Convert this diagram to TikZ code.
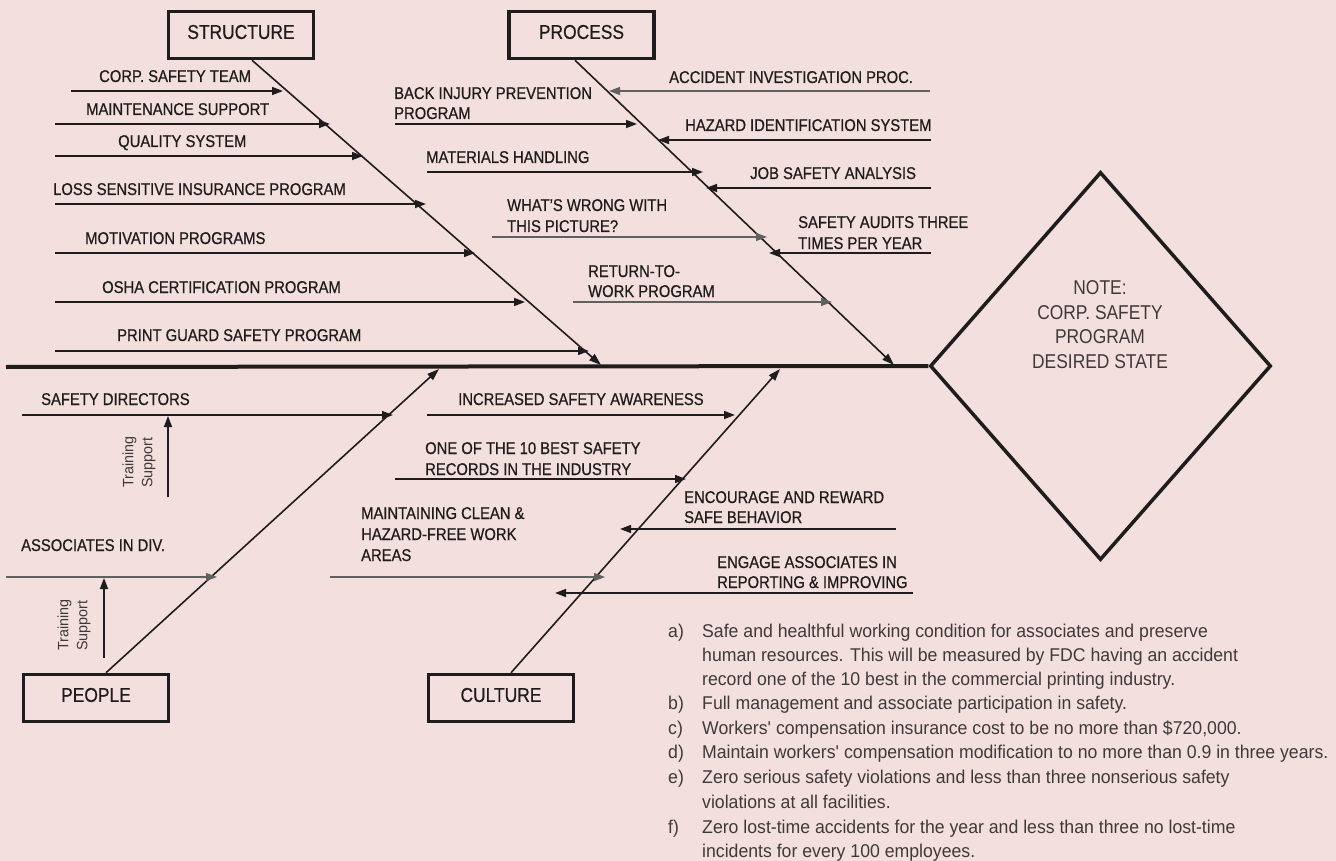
\documentclass[tikz,border=0pt]{standalone}
\usepackage{fontspec}
\setmainfont{Liberation Sans}
\newfontfamily\condfont{Liberation Sans}[FakeStretch=0.87,FakeBold=0.6]
\newfontfamily\goalfont{Liberation Sans}[FakeStretch=0.87]
\newfontfamily\notefont{Liberation Sans}[FakeStretch=0.955]
\usetikzlibrary{arrows.meta,shapes.geometric}
\definecolor{bg}{RGB}{243,223,221}
\definecolor{ink}{RGB}{30,28,28}
\definecolor{softink}{RGB}{62,58,58}
\tikzset{
  catbox/.style={draw=ink, line width=3.5pt, minimum width=145pt, minimum height=47pt,
    inner sep=0pt, text height=14.3pt, text depth=6.5pt,
    font=\condfont\fontsize{20}{24}\selectfont, text=ink},
  goalshape/.style={diamond, draw=ink, line width=3.5pt, minimum width=341pt,
    minimum height=388pt, inner sep=0pt},
  goaltxt/.style={anchor=base, inner sep=0pt, font=\goalfont\fontsize{20}{24}\selectfont, text=softink},
  lbl/.style={anchor=base west, inner sep=0pt, font=\condfont\fontsize{17}{20}\selectfont, text=ink},
  note/.style={anchor=base west, inner sep=0pt, font=\notefont\fontsize{18.5}{24}\selectfont, text=softink},
  train/.style={rotate=90, align=left, inner sep=0pt, font=\notefont\fontsize{15}{19}\selectfont, text=softink},
  spineline/.style={draw=ink, line width=4pt},
  bone/.style={draw=ink, line width=1.6pt, -{Triangle[length=12pt,width=8pt]}},
  br/.style={draw=ink, line width=1.5pt, -{Triangle[length=11pt,width=8pt]}},
  thinbr/.style={draw=ink!70, line width=1.1pt, -{Triangle[length=11pt,width=8pt]}},
  sup/.style={draw=ink, line width=1.5pt, -{Triangle[length=11pt,width=8pt]}}
}
\begin{document}
\begin{tikzpicture}[x=1pt,y=-1pt]
\fill[bg] (0,0) rectangle (1336,861);
\useasboundingbox (0,0) rectangle (1336,861);

% category boxes and goal
\node[catbox] (structure) at (241,35) {STRUCTURE};
\node[catbox] (process) at (581.5,35) {PROCESS};
\node[catbox] (people) at (96,698) {PEOPLE};
\node[catbox] (culture) at (501,698) {CULTURE};
\node[goalshape] (goal) at (1100.5,366) {};
\node[goaltxt] (g1) at (1100,294) {NOTE:};
\node[goaltxt] (g2) at (1100,319) {CORP. SAFETY};
\node[goaltxt] (g3) at (1100,343) {PROGRAM};
\node[goaltxt] (g4) at (1100,368) {DESIRED STATE};

% spine
\coordinate (spinestart) at (6,367);
\draw[spineline] (spinestart) -- (goal.west);

% bones
\coordinate (sTip) at (601,365);
\coordinate (pTip) at (894,365);
\coordinate (peTip) at (439,369);
\coordinate (cTip) at (780,369);
\draw[bone] ([xshift=11pt]structure.south) -- (sTip);
\draw[bone] ([xshift=-6.5pt]process.south) -- (pTip);
\draw[bone] ([xshift=10pt]people.north) -- (peTip);
\draw[bone] ([xshift=10pt]culture.north) -- (cTip);

% ---------- STRUCTURE branches ----------
\node[lbl] (s1) at (99,82) {CORP. SAFETY TEAM};
\node[lbl] (s2) at (86,115) {MAINTENANCE SUPPORT};
\node[lbl] (s3) at (118,147) {QUALITY SYSTEM};
\node[lbl] (s4) at (53,195) {LOSS SENSITIVE INSURANCE PROGRAM};
\node[lbl] (s5) at (85,244) {MOTIVATION PROGRAMS};
\node[lbl] (s6) at (102,293) {OSHA CERTIFICATION PROGRAM};
\node[lbl] (s7) at (117,341) {PRINT GUARD SAFETY PROGRAM};
\coordinate (s1a) at (71,91);  \coordinate (s1b) at (283,91);
\coordinate (s2a) at (55,124); \coordinate (s2b) at (330,124);
\coordinate (s3a) at (55,156); \coordinate (s3b) at (363,156);
\coordinate (s4a) at (55,204); \coordinate (s4b) at (426,204);
\coordinate (s5a) at (55,253); \coordinate (s5b) at (475,253);
\coordinate (s6a) at (55,302); \coordinate (s6b) at (525,302);
\coordinate (s7a) at (55,351); \coordinate (s7b) at (589,351);
\draw[br] (s1a) -- (s1b);
\draw[br] (s2a) -- (s2b);
\draw[br] (s3a) -- (s3b);
\draw[br] (s4a) -- (s4b);
\draw[br] (s5a) -- (s5b);
\draw[br] (s6a) -- (s6b);
\draw[br] (s7a) -- (s7b);

% ---------- PROCESS branches ----------
\node[lbl] (p1) at (669,83) {ACCIDENT INVESTIGATION PROC.};
\node[lbl] (p2) at (394,99) {BACK INJURY PREVENTION};
\node[lbl] (p2b) at (394,119) {PROGRAM};
\node[lbl] (p3) at (685,131) {HAZARD IDENTIFICATION SYSTEM};
\node[lbl] (p4) at (426,163) {MATERIALS HANDLING};
\node[lbl] (p5) at (750,179) {JOB SAFETY ANALYSIS};
\node[lbl] (p6) at (507,211) {WHAT’S WRONG WITH};
\node[lbl] (p6b) at (507,232) {THIS PICTURE?};
\node[lbl] (p7) at (798,228) {SAFETY AUDITS THREE};
\node[lbl] (p7b) at (798,249) {TIMES PER YEAR};
\node[lbl] (p8) at (588,277) {RETURN-TO-};
\node[lbl] (p8b) at (588,297) {WORK PROGRAM};
\coordinate (p1a) at (930,91);  \coordinate (p1e) at (609,91);
\coordinate (p2a) at (395,124); \coordinate (p2e) at (637,124);
\coordinate (p3a) at (931,140); \coordinate (p3e) at (658,140);
\coordinate (p4a) at (427,172); \coordinate (p4e) at (703,172);
\coordinate (p5a) at (931,188); \coordinate (p5e) at (706,188);
\coordinate (p6a) at (492,237); \coordinate (p6e) at (767,237);
\coordinate (p7a) at (931,253); \coordinate (p7e) at (769,253);
\coordinate (p8a) at (573,302); \coordinate (p8e) at (832,302);
\draw[thinbr] (p1a) -- (p1e);
\draw[br] (p2a) -- (p2e);
\draw[br] (p3a) -- (p3e);
\draw[br] (p4a) -- (p4e);
\draw[br] (p5a) -- (p5e);
\draw[thinbr] (p6a) -- (p6e);
\draw[br] (p7a) -- (p7e);
\draw[thinbr] (p8a) -- (p8e);

% ---------- PEOPLE branches ----------
\node[lbl] (e1) at (41,405) {SAFETY DIRECTORS};
\node[lbl] (e2) at (21,551) {ASSOCIATES IN DIV.};
\node[train] (tr1) at (139,462) {Training\\Support};
\node[train] (tr2) at (74,625) {Training\\Support};
\coordinate (e1a) at (22,415); \coordinate (e1b) at (393,415);
\coordinate (e2a) at (6,577);  \coordinate (e2b) at (217,577);
\coordinate (t1a) at (168,497); \coordinate (t1b) at (168,416);
\coordinate (t2a) at (104,658); \coordinate (t2b) at (104,578);
\draw[br] (e1a) -- (e1b);
\draw[thinbr] (e2a) -- (e2b);
\draw[sup] (t1a) -- (t1b);
\draw[sup] (t2a) -- (t2b);

% ---------- CULTURE branches ----------
\node[lbl] (c1) at (458,405) {INCREASED SAFETY AWARENESS};
\node[lbl] (c2) at (425,454) {ONE OF THE 10 BEST SAFETY};
\node[lbl] (c2b) at (425,475) {RECORDS IN THE INDUSTRY};
\node[lbl] (c3) at (684,503) {ENCOURAGE AND REWARD};
\node[lbl] (c3b) at (684,523) {SAFE BEHAVIOR};
\node[lbl] (c4) at (361,519) {MAINTAINING CLEAN \&};
\node[lbl] (c4b) at (361,540) {HAZARD-FREE WORK};
\node[lbl] (c4c) at (361,561) {AREAS};
\node[lbl] (c5) at (717,568) {ENGAGE ASSOCIATES IN};
\node[lbl] (c5b) at (717,588) {REPORTING \& IMPROVING};
\coordinate (c1a) at (427,415); \coordinate (c1e) at (735,415);
\coordinate (c2a) at (395,479); \coordinate (c2e) at (686,479);
\coordinate (c3a) at (896,529); \coordinate (c3e) at (620,529);
\coordinate (c4a) at (330,577); \coordinate (c4e) at (605,577);
\coordinate (c5a) at (913,593); \coordinate (c5e) at (555,593);
\draw[br] (c1a) -- (c1e);
\draw[br] (c2a) -- (c2e);
\draw[br] (c3a) -- (c3e);
\draw[thinbr] (c4a) -- (c4e);
\draw[br] (c5a) -- (c5e);

% ---------- objectives ----------
\node[note] (na) at (668,637.6) {a)};
\node[note] (na1) at (702,637.6) {Safe and healthful working condition for associates and preserve};
\node[note] (na2) at (702,661.6) {human resources. This will be measured by FDC having an accident};
\node[note] (na3) at (702,685.6) {record one of the 10 best in the commercial printing industry.};
\node[note] (nb) at (668,709.6) {b)};
\node[note] (nb1) at (702,709.6) {Full management and associate participation in safety.};
\node[note] (nc) at (668,734.6) {c)};
\node[note] (nc1) at (702,734.6) {Workers\textquotesingle\ compensation insurance cost to be no more than \$720,000.};
\node[note] (nd) at (668,758.6) {d)};
\node[note] (nd1) at (702,758.6) {Maintain workers\textquotesingle\ compensation modification to no more than 0.9 in three years.};
\node[note] (ne) at (668,783.6) {e)};
\node[note] (ne1) at (702,783.6) {Zero serious safety violations and less than three nonserious safety};
\node[note] (ne2) at (702,808.6) {violations at all facilities.};
\node[note] (nf) at (668,833.6) {f)};
\node[note] (nf1) at (702,833.6) {Zero lost-time accidents for the year and less than three no lost-time};
\node[note] (nf2) at (702,857.6) {incidents for every 100 employees.};
\end{tikzpicture}
\end{document}
